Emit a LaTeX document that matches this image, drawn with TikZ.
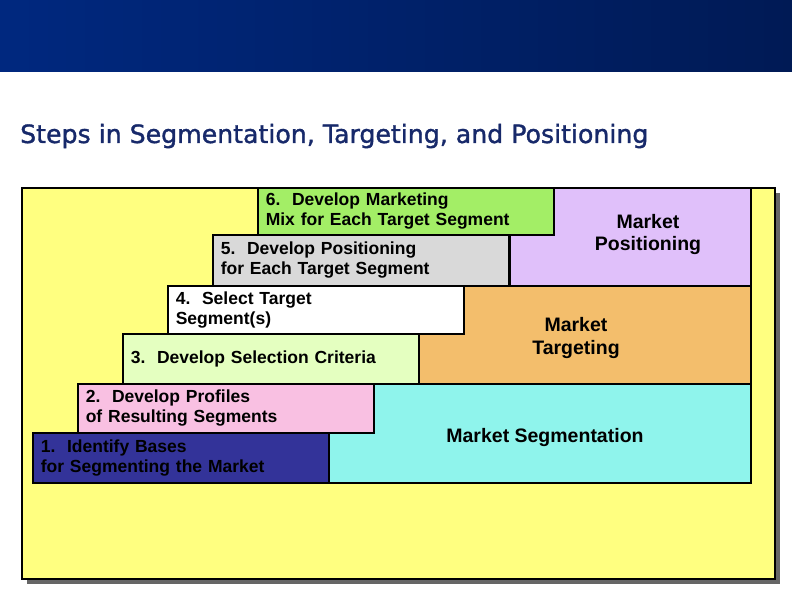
\documentclass[tikz,border=0pt]{standalone}
\usepackage{fontspec}
\setmainfont{Liberation Sans}
\newfontfamily\titlefont[FakeBold=1.3]{DejaVu Sans}
\definecolor{bannerleft}{HTML}{00287F}
\definecolor{bannerright}{HTML}{001A55}
\definecolor{titleblue}{HTML}{17296A}
\definecolor{padyellow}{HTML}{FFFF80}
\definecolor{padshadow}{HTML}{666666}
\definecolor{smix}{HTML}{A3EE66}
\definecolor{sposit}{HTML}{D9D9D9}
\definecolor{sselect}{HTML}{FFFFFF}
\definecolor{scrit}{HTML}{E4FFC0}
\definecolor{sprof}{HTML}{F9C0E2}
\definecolor{sbases}{HTML}{333399}
\definecolor{rposit}{HTML}{E0C0FA}
\definecolor{rtarget}{HTML}{F3BE6C}
\definecolor{rsegment}{HTML}{8FF4EC}

\begin{document}
\begin{tikzpicture}[
  x=1pt, y=-1pt,
  stepbox/.style={
    rectangle, draw=black, line width=1.6pt,
    anchor=north west, inner xsep=8pt, inner ysep=0pt,
    text width=280pt, minimum width=296pt, align=left,
    font=\bfseries\fontsize{17.5}{20}\selectfont
  },
  region/.style={
    rectangle, draw=black, line width=1.6pt,
    anchor=north west, inner sep=0pt
  },
  rlbl/.style={align=center, font=\bfseries\fontsize{19.5}{22}\selectfont},
]
  \useasboundingbox (0,0) rectangle (792,612);

  % banner and title
  \shade[left color=bannerleft, right color=bannerright] (0,0) rectangle (792,72);
  \node[anchor=base west, inner sep=0pt, text=titleblue,
    font=\titlefont\fontsize{25.2}{30}\selectfont] (title) at (20,143)
    {Steps in Segmentation, Targeting, and Positioning};

  % yellow pad with shadow
  \fill[padshadow] (27,193) rectangle (780,584);
  \node[region, fill=padyellow, minimum width=753pt, minimum height=391pt]
    (pad) at (21,187) {};

  % the three stages
  \node[region, fill=rposit, minimum width=241pt, minimum height=98pt]
    (posit) at (509,187) {};
  \node[region, fill=rtarget, minimum width=332pt, minimum height=98pt]
    (target) at (418,285) {};
  \node[region, fill=rsegment, minimum width=422pt, minimum height=99pt]
    (segment) at (328,383) {};

  % the six steps
  \node[stepbox, fill=smix, minimum height=47pt] (mix) at (257,187)
    {6.\ \ Develop Marketing\\Mix for Each Target Segment};
  \node[stepbox, fill=sposit, minimum height=51pt] (posstep) at (212,234)
    {5.\ \ Develop Positioning\\for Each Target Segment};
  \node[stepbox, fill=sselect, minimum height=48pt] (select) at (167,285)
    {4.\ \ Select Target\\Segment(s)};
  \node[stepbox, fill=scrit, minimum height=50pt] (crit) at (122,333)
    {3.\ \ Develop Selection Criteria};
  \node[stepbox, fill=sprof, minimum height=49pt] (prof) at (77,383)
    {2.\ \ Develop Profiles\\of Resulting Segments};
  \node[stepbox, fill=sbases, minimum height=50pt] (bases) at (32,432)
    {1.\ \ Identify Bases\\for Segmenting the Market};

  % stage labels
  \node[rlbl] (positlbl) at (648,235) {Market\\Positioning};
  \node[rlbl] (targetlbl) at (576,338) {Market\\Targeting};
  \node[rlbl] (segmentlbl) at (545,437) {Market Segmentation};
\end{tikzpicture}
\end{document}
